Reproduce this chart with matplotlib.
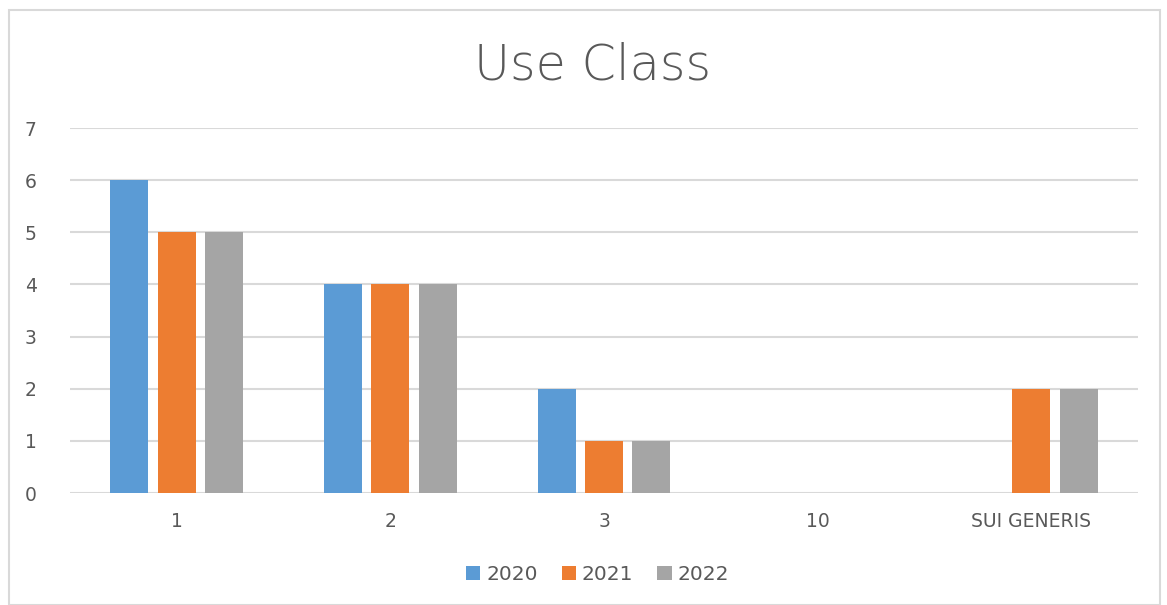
import numpy as np
import matplotlib.pyplot as plt
from matplotlib.patches import Rectangle

categories = ["1", "2", "3", "10", "SUI GENERIS"]
years = ["2020", "2021", "2022"]
v2020 = [6, 4, 2, 0, 0]
v2021 = [5, 4, 1, 0, 2]
v2022 = [5, 4, 1, 0, 2]
colors = ["#5b9bd5", "#ed7d31", "#a5a5a5"]

plt.rcParams['font.family'] = ['DejaVu Sans']

fig = plt.figure(figsize=(11.67, 6.05), dpi=100)
ax = fig.add_axes([0.06, 0.1851, 0.9152, 0.6033])

x = np.arange(len(categories))
w = 0.178
step = 0.222
for i, (vals, lab) in enumerate(zip([v2020, v2021, v2022], years)):
    ax.bar(x + (i - 1) * step, vals, width=w, color=colors[i], label=lab, zorder=3)

ax.set_xlim(-0.5, len(categories) - 0.5)
ax.set_ylim(0, 7)
ax.set_yticks(range(0, 8))
ax.grid(axis='y', color='#d9d9d9', linewidth=1.5, zorder=0)
ax.set_xticks(x)
ax.set_xticklabels(categories)
for s in ax.spines.values():
    s.set_visible(False)
ax.tick_params(length=0, labelsize=13.5, labelcolor='#595959')
ax.tick_params(axis='y', pad=24)
ax.tick_params(axis='x', pad=14)

fig.text(0.508, 0.892, "Use Class", ha='center', va='center', fontsize=35.5,
         color='#595959', fontweight='light')

fig.legend(loc='center', bbox_to_anchor=(0.512, 0.05), ncol=3, frameon=False,
           fontsize=14.5, labelcolor='#595959', handlelength=0.7, handleheight=0.7,
           handletextpad=0.3, columnspacing=1.2)

fig.patches.append(Rectangle((9 / 1167, 0), 1 - 16 / 1167, 1 - 10 / 605,
                             transform=fig.transFigure, fill=False,
                             edgecolor='#d9d9d9', linewidth=1.5))

fig.savefig("out.png", dpi=100)
